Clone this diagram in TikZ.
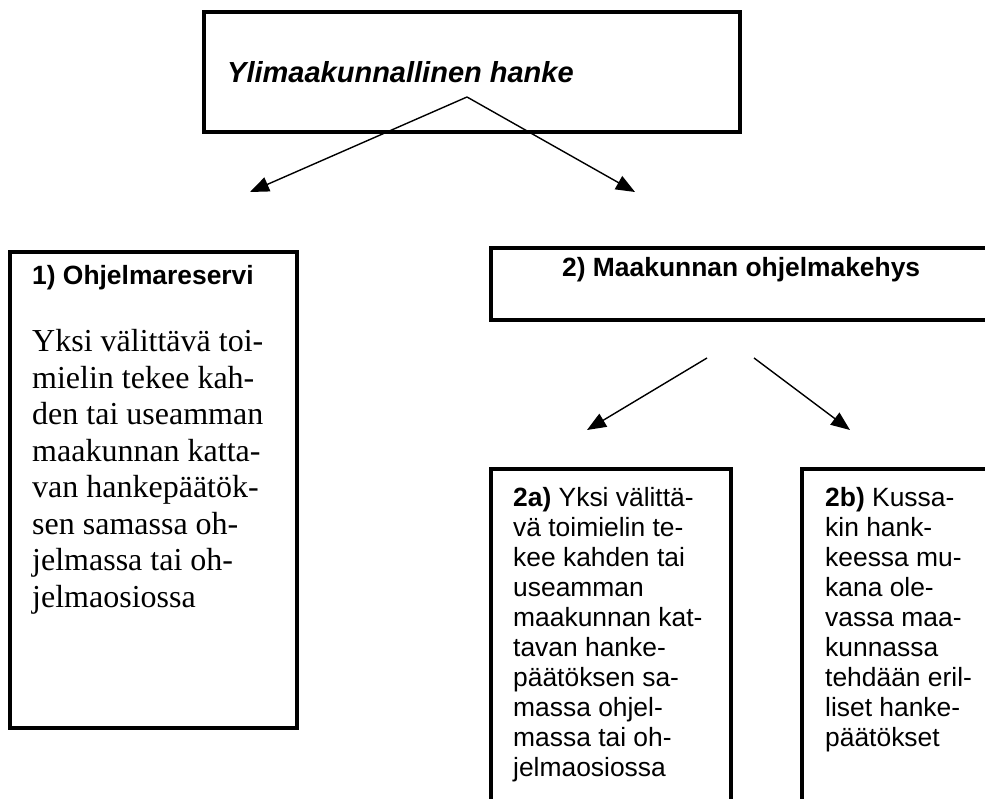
\documentclass[tikz,border=0pt]{standalone}
\usepackage{fontspec}
\setmainfont{Liberation Serif}
\setsansfont{Liberation Sans}
\usetikzlibrary{arrows.meta}
\tikzset{
  frame/.style={draw=black, line width=4pt, inner sep=0pt, outer sep=0pt, anchor=north west},
  arr/.style={line width=1.4pt, -{Triangle[length=19pt,width=15pt]}},
  sanstxt/.style={inner sep=0pt, anchor=base west, font=\sffamily\fontsize{26.4}{30}\selectfont},
  seriftxt/.style={inner sep=0pt, anchor=base west, font=\rmfamily\fontsize{32}{36.5}\selectfont}
}
\begin{document}
\begin{tikzpicture}[x=1pt,y=-1pt]
\useasboundingbox (0,0) rectangle (985,799);
\clip (0,0) rectangle (985,799);
\fill[white] (0,0) rectangle (985,799);
% boxes
\node[frame, minimum width=536pt, minimum height=120pt] (top) at (204,12) {};
\node[frame, minimum width=287pt, minimum height=476pt] (b1) at (10,252) {};
\node[frame, minimum width=520pt, minimum height=72pt] (b2) at (491,248) {};
\node[frame, minimum width=240pt, minimum height=360pt] (b2a) at (491,469) {};
\node[frame, minimum width=220pt, minimum height=360pt] (b2b) at (802,469) {};
% texts
\node[sanstxt, font=\sffamily\bfseries\itshape\fontsize{29}{33}\selectfont] (ttop) at (227,83) {Ylimaakunnallinen hanke};
\node[sanstxt, font=\sffamily\bfseries\fontsize{26.4}{30}\selectfont] (t1) at (32,285) {1) Ohjelmareservi};
\node[seriftxt] (t1body) at (32,352) {\vtop{\hbox{Yksi välittävä toi-}\hbox{mielin tekee kah-}\hbox{den tai useamman}\hbox{maakunnan katta-}\hbox{van hankepäätök-}\hbox{sen samassa oh-}\hbox{jelmassa tai oh-}\hbox{jelmaosiossa}}};
\node[sanstxt, font=\sffamily\bfseries\fontsize{26.4}{30}\selectfont] (t2) at (562,277) {2) Maakunnan ohjelmakehys};
\node[sanstxt] (t2a) at (513,506) {\vtop{\hbox{\textbf{2a)} Yksi välittä-}\hbox{vä toimielin te-}\hbox{kee kahden tai}\hbox{useamman}\hbox{maakunnan kat-}\hbox{tavan hanke-}\hbox{päätöksen sa-}\hbox{massa ohjel-}\hbox{massa tai oh-}\hbox{jelmaosiossa}}};
\node[sanstxt] (t2b) at (825,506) {\vtop{\hbox{\textbf{2b)} Kussa-}\hbox{kin hank-}\hbox{keessa mu-}\hbox{kana ole-}\hbox{vassa maa-}\hbox{kunnassa}\hbox{tehdään eril-}\hbox{liset hanke-}\hbox{päätökset}}};
% arrow coordinates
\coordinate (s0) at (467,97);
\coordinate (e1) at (250,192);
\coordinate (e2) at (635,192);
\coordinate (s1) at (707,358);
\coordinate (s2) at (754,358);
\coordinate (e3) at (587,430);
\coordinate (e4) at (850,430);
\draw[arr] (s0) -- (e1);
\draw[arr] (s0) -- (e2);
\draw[arr] (s1) -- (e3);
\draw[arr] (s2) -- (e4);
\end{tikzpicture}
\end{document}
